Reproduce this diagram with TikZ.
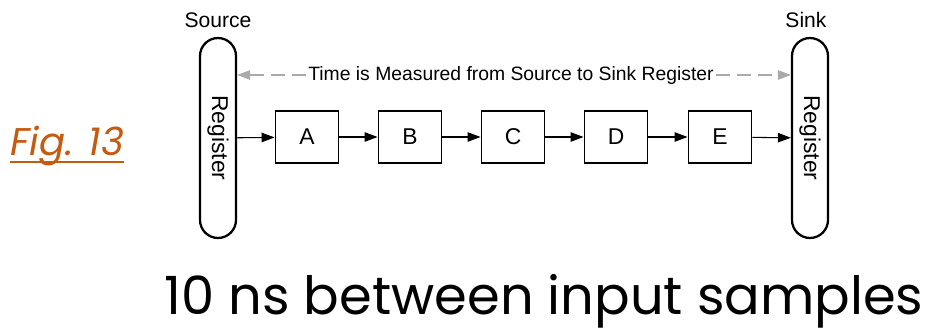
\documentclass[tikz,border=0pt]{standalone}
\usepackage{fontspec}
\setmainfont{Liberation Sans}
\newfontfamily\slidefont{Poppins}
\usetikzlibrary{arrows.meta}
\definecolor{figorange}{HTML}{C55A11}
\definecolor{timegray}{HTML}{AAAAAA}

\begin{document}
\begin{tikzpicture}[x=0.02cm,y=-0.02cm,>={Triangle[length=2.6mm,width=1.9mm]}]
  \tikzset{
    register/.style={draw,line width=1.3pt,rounded corners=0.36cm,rotate=-90,
      minimum width=4cm,minimum height=0.72cm,inner sep=0pt,font=\fontsize{13}{15}\selectfont},
    stage/.style={draw,line width=1.1pt,minimum width=1.26cm,minimum height=1.04cm,
      inner sep=0pt,font=\fontsize{13}{15}\selectfont},
    flow/.style={->,line width=0.6pt},
    timeflow/.style={->,timegray,line width=0.6pt,dash pattern=on 8pt off 4pt}
  }
  \useasboundingbox (0,0) rectangle (941,332);
  % registers
  \node[register] (src) at (218,138) {Register};
  \node[register] (snk) at (810,138) {Register};
  \node[font=\fontsize{12}{14}\selectfont] (srclbl) at (218,20) {Source};
  \node[font=\fontsize{12}{14}\selectfont] (snklbl) at (806,20) {Sink};
  % stages
  \node[stage] (A) at (307,137) {A};
  \node[stage] (B) at (410,137) {B};
  \node[stage] (C) at (513,137) {C};
  \node[stage] (D) at (616,137) {D};
  \node[stage] (E) at (720,137) {E};
  \draw[flow] (src) -- (A);
  \draw[flow] (A) -- (B);
  \draw[flow] (B) -- (C);
  \draw[flow] (C) -- (D);
  \draw[flow] (D) -- (E);
  \draw[flow] (E) -- (snk);
  % measured time
  \node[font=\fontsize{11}{13}\selectfont,inner sep=1pt] (time) at (511,75)
    {Time is Measured from Source to Sink Register};
  \draw[timeflow] (time.west) -- (src.north |- time.west);
  \draw[timeflow] (time.east) -- (snk.south |- time.east);
  % slide labels
  \node[anchor=base,inner sep=0pt,figorange,font=\slidefont\fontsize{22}{26}\selectfont] (fig) at (67,155)
    {\textit{Fig. 13}};
  \draw[figorange,line width=0.8pt] ([yshift=-4pt]fig.base west) -- ([yshift=-4pt]fig.base east);
  \node[anchor=base,inner sep=0pt,font=\slidefont\fontsize{30}{34}\selectfont] (caption) at (544,314)
    {10 ns between input samples};
\end{tikzpicture}
\end{document}
